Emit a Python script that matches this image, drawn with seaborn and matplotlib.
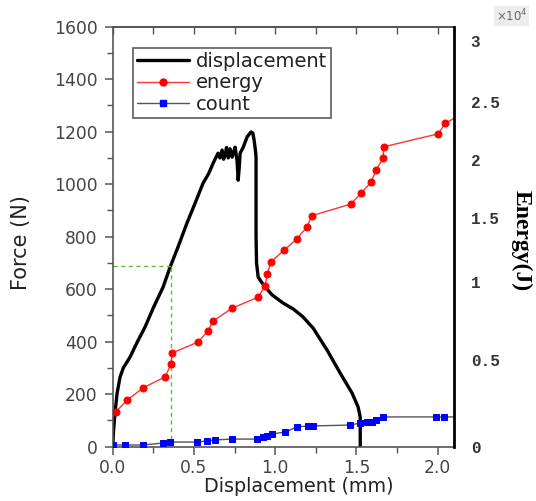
import numpy as np
import matplotlib
matplotlib.use("Agg")
import matplotlib.pyplot as plt
from matplotlib.lines import Line2D
import seaborn as sns

# Force-displacement curve (N vs mm)
disp_mm = [0, 0.005, 0.014, 0.027, 0.045, 0.065, 0.107, 0.148, 0.199, 0.249,
           0.310, 0.353, 0.402, 0.457, 0.507, 0.556, 0.590, 0.618, 0.648, 0.660,
           0.673, 0.682, 0.692, 0.700, 0.711, 0.722, 0.735, 0.745, 0.753, 0.765,
           0.772, 0.778, 0.784, 0.803, 0.827, 0.851, 0.862, 0.870, 0.878, 0.882,
           0.882, 0.885, 0.895, 0.919, 0.950, 0.981, 1.049, 1.110, 1.170, 1.233,
           1.319, 1.400, 1.473, 1.510, 1.523, 1.523]
force_n = [0, 60, 128, 204, 265, 300, 342, 395, 456, 528,
           608, 684, 761, 852, 928, 1004, 1040, 1080, 1118, 1100,
           1130, 1095, 1111, 1140, 1100, 1135, 1103, 1125, 1141, 1090,
           1015, 1060, 1118, 1141, 1180, 1199, 1195, 1168, 1130, 1103,
           800, 700, 646, 624, 600, 578, 547, 525, 495, 452,
           368, 280, 204, 151, 113, 0]

# Acoustic emission energy (x1e4 J)
energy_disp = [0.020, 0.088, 0.187, 0.322, 0.359, 0.365, 0.525, 0.587, 0.617,
               0.735, 0.895, 0.938, 0.951, 0.974, 1.054, 1.134, 1.195, 1.226,
               1.467, 1.529, 1.590, 1.621, 1.664, 1.667, 2.003, 2.046, 2.150]
energy_val = [0.202, 0.269, 0.340, 0.403, 0.478, 0.546, 0.616, 0.688, 0.750,
              0.833, 0.903, 0.976, 1.063, 1.158, 1.250, 1.339, 1.431, 1.522,
              1.623, 1.717, 1.812, 1.917, 2.018, 2.116, 2.228, 2.319, 2.400]

# Acoustic emission count (same right-hand scale)
count_disp = [0.0, 0.076, 0.187, 0.310, 0.353, 0.519, 0.581, 0.630, 0.735,
              0.889, 0.925, 0.951, 0.981, 1.061, 1.134, 1.202, 1.233, 1.461,
              1.523, 1.566, 1.597, 1.621, 1.664, 1.991, 2.040, 2.150]
count_val = [0.010, 0.010, 0.010, 0.021, 0.027, 0.027, 0.033, 0.039, 0.044,
             0.044, 0.056, 0.062, 0.073, 0.085, 0.114, 0.120, 0.120, 0.125,
             0.137, 0.140, 0.143, 0.154, 0.172, 0.172, 0.172, 0.172]

# Reference guide at the marked displacement
guide_disp = 0.36
guide_force = 688

force_ticks = [0, 200, 400, 600, 800, 1000, 1200, 1400, 1600]
disp_ticks = [0.0, 0.5, 1.0, 1.5, 2.0]
disp_tick_labels = ["0.0", "0.5", "1.0", "1.5", "2.0"]
energy_ticks = [0, 0.5, 1, 1.5, 2, 2.5, 3]
energy_tick_labels = ["0", "0.5", "1", "1.5", "2", "2.5", "3"]

sns.set_theme(style="white")
plt.rcParams["font.family"] = ["DejaVu Sans"]

fig = plt.figure(figsize=(5.36, 5.01), dpi=100)
ax = fig.add_axes([0.2103, 0.1084, 0.6367, 0.8383])

sns.lineplot(x=disp_mm, y=force_n, sort=False, estimator=None, ax=ax,
             color="black", linewidth=2.4, legend=False)
ax.plot([0, guide_disp], [guide_force, guide_force], color="#66bb33",
        linestyle=(0, (3, 2.5)), linewidth=1.0)
ax.plot([guide_disp, guide_disp], [0, guide_force], color="#66bb33",
        linestyle=(0, (3, 2.5)), linewidth=1.0)

ax.set_xlim(0, 2.1)
ax.set_ylim(0, 1600)
ax.set_xticks(disp_ticks)
ax.set_xticklabels(disp_tick_labels)
ax.set_xticks(np.arange(0.25, 2.1, 0.5), minor=True)
ax.set_yticks(force_ticks)
ax.set_yticks(np.arange(100, 1600, 200), minor=True)
ax.tick_params(axis="both", which="major", direction="out", length=6,
               width=1.1, color="#555555", labelsize=12.3,
               labelcolor="#444444", left=True, bottom=True, pad=3)
ax.tick_params(axis="both", which="minor", direction="out", length=4,
               width=1.0, color="#555555", left=True, bottom=True)
ax.tick_params(axis="y", which="major", pad=5)
for side in ("left", "bottom", "top"):
    ax.spines[side].set_color("#555555")
    ax.spines[side].set_linewidth(1.2)
ax.spines["right"].set_visible(False)

ax.set_xlabel("Displacement (mm)", fontsize=13.8, color="#222222")
ax.set_ylabel("Force (N)", fontsize=15, color="#222222")
ax.xaxis.set_label_coords(0.544, -0.073)
ax.yaxis.set_label_coords(-0.24, 0.485)

top = ax.secondary_xaxis("top")
top.set_xticks(np.arange(0, 2.1, 0.25))
top.tick_params(direction="in", length=5, width=1.0, color="#555555",
                labeltop=False)
top.spines["top"].set_color("#444444")
top.spines["top"].set_linewidth(1.2)

# Right-hand energy axis, laid out on a piecewise scale
scale_vals = [0.0, 0.5, 1.0, 1.5, 2.0, 2.5, 3.0, 3.116]
scale_pos = [0.0, 0.206, 0.392, 0.544, 0.682, 0.820, 0.966, 1.0]


def fwd(v):
    return np.interp(np.asarray(v, dtype=float), scale_vals, scale_pos)


def inv(p):
    return np.interp(np.asarray(p, dtype=float), scale_pos, scale_vals)


ax2 = ax.twinx()
ax2.set_yscale("function", functions=(fwd, inv))
sns.lineplot(x=count_disp, y=count_val, sort=False, estimator=None, ax=ax2,
             color="#555555", linewidth=1.0, marker="s", markersize=4,
             markerfacecolor="blue", markeredgecolor="blue", legend=False)
sns.lineplot(x=energy_disp, y=energy_val, sort=False, estimator=None, ax=ax2,
             color="#ff3333", linewidth=1.0, marker="o", markersize=5,
             markerfacecolor="red", markeredgecolor="red", legend=False)
ax2.set_xlim(0, 2.1)
ax2.set_ylim(0, 3.116)
ax2.set_yticks(energy_ticks)
ax2.set_yticklabels(energy_tick_labels)
ax2.yaxis.set_minor_locator(matplotlib.ticker.NullLocator())
ax2.tick_params(axis="y", which="both", length=0, pad=12, labelsize=11.5,
                labelcolor="#333333")
for lab in ax2.get_yticklabels():
    lab.set_fontfamily("Liberation Mono")
    lab.set_fontweight("bold")
for side in ("left", "bottom", "top"):
    ax2.spines[side].set_visible(False)
ax2.spines["right"].set_color("black")
ax2.spines["right"].set_linewidth(2.0)
ax2.set_ylabel("")
ax2.grid(False)
ax.grid(False)

fig.text(0.973, 0.52, "Energy(J)", rotation=270, ha="center", va="center",
         fontsize=17, fontweight="bold", family="Liberation Serif",
         color="black")
fig.text(0.955, 0.968, r"$\times10^4$", ha="center", va="center",
         fontsize=8.5, color="#666666",
         bbox=dict(boxstyle="square,pad=0.15", facecolor="#ececec",
                   edgecolor="none"))

handles = [
    Line2D([], [], color="black", linewidth=2.4),
    Line2D([], [], color="#ff3333", linewidth=1.0, marker="o", markersize=5,
           markerfacecolor="red", markeredgecolor="red"),
    Line2D([], [], color="#555555", linewidth=1.0, marker="s", markersize=4,
           markerfacecolor="blue", markeredgecolor="blue"),
]
leg = ax2.legend(handles, ["displacement", "energy", "count"],
                 loc="upper left", bbox_to_anchor=(0.059, 0.949),
                 borderaxespad=0, frameon=True, fancybox=False,
                 fontsize=14, handlelength=2.7, handletextpad=0.35,
                 labelspacing=0.12, borderpad=0.2)
leg.get_frame().set_edgecolor("#333333")
leg.get_frame().set_linewidth(1.2)
for t in leg.get_texts():
    t.set_color("#222222")

fig.savefig("out.png", dpi=100, facecolor="white")
